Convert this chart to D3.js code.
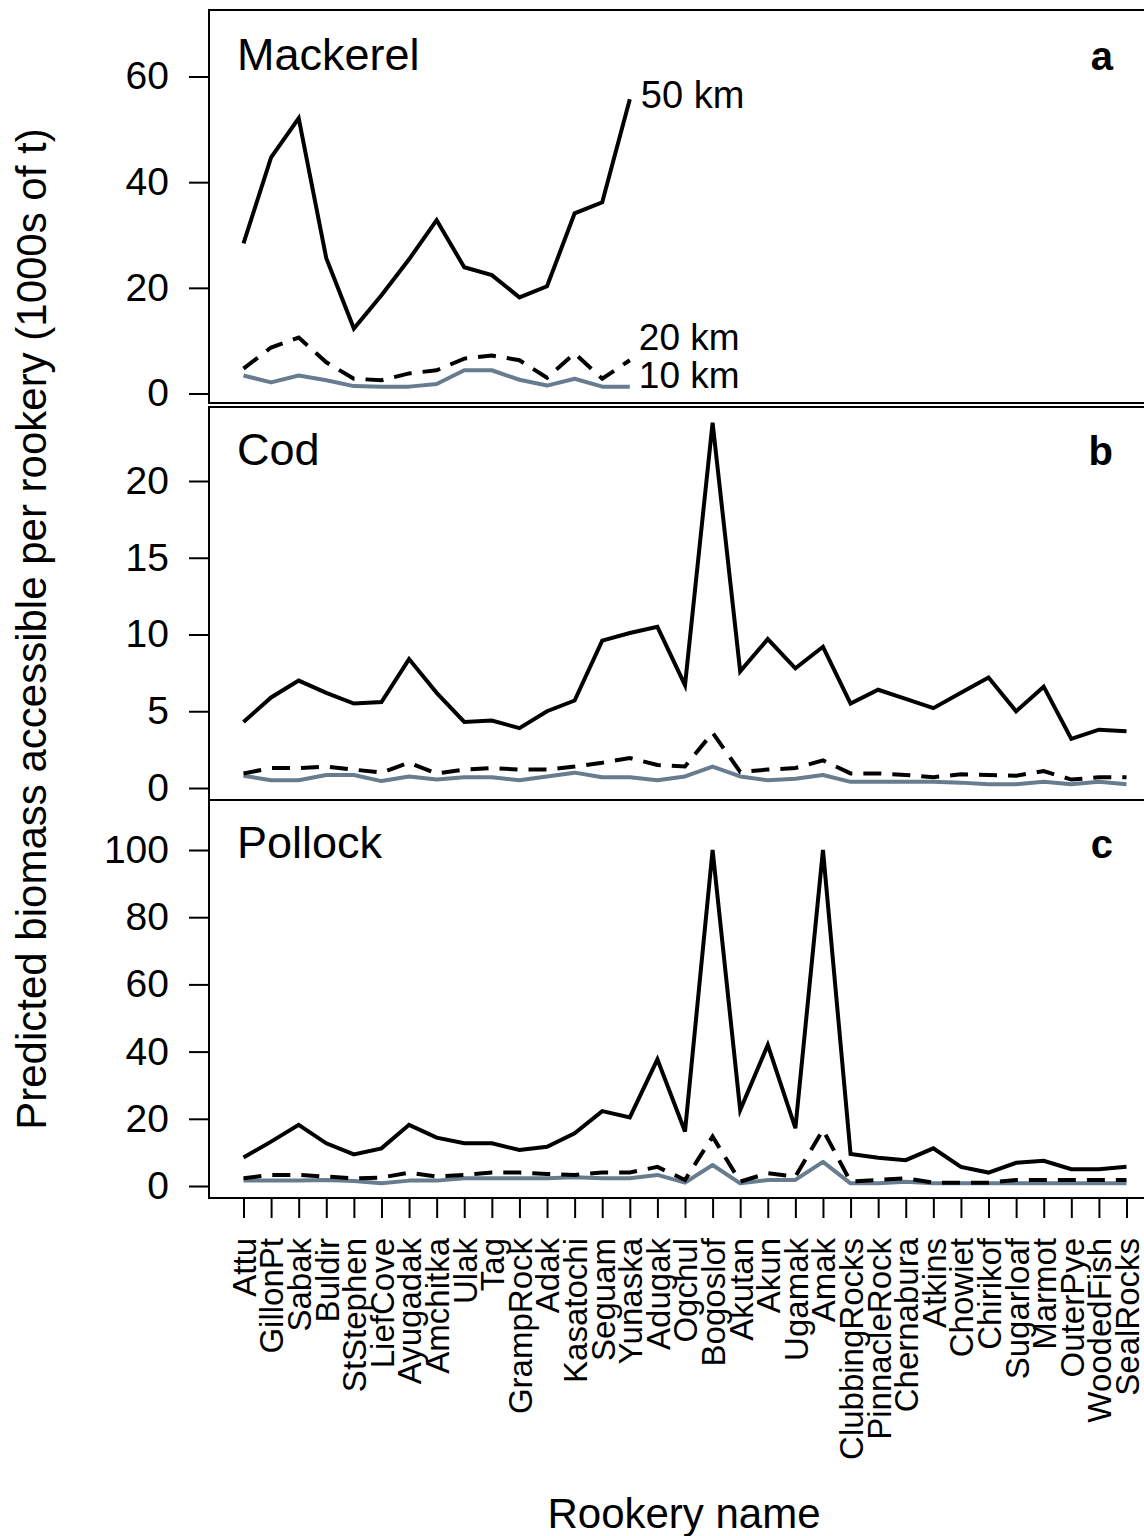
<!DOCTYPE html>
<html>
<head>
<meta charset="utf-8">
<script src="https://cdn.jsdelivr.net/npm/d3@7"></script>
<style>
  body { margin: 0; background: #fff; }
  svg text { font-family: "Liberation Sans", Arial, sans-serif; fill: #000; }
</style>
</head>
<body>
<div id="chart"></div>
<script>
(function() {

var rookeries = ["Attu", "GillonPt", "Sabak", "Buldir", "StStephen", "LiefCove", "Ayugadak",
  "Amchitka", "Ulak", "Tag", "GrampRock", "Adak", "Kasatochi", "Seguam", "Yunaska", "Adugak",
  "Ogchul", "Bogoslof", "Akutan", "Akun", "Ugamak", "Amak", "ClubbingRocks", "PinnacleRock",
  "Chernabura", "Atkins", "Chowiet", "Chirikof", "Sugarloaf", "Marmot", "OuterPye",
  "WoodedFish", "SealRocks"];

// mackerel only reaches Yunaska
var mackerel50 = [28.4, 44.7, 52.1, 25.6, 12.3, 18.6, 25.4, 32.8, 23.9, 22.4, 18.2, 20.3, 34.1, 36.2, 55.7];
var mackerel20 = [4.7, 8.7, 10.6, 5.9, 2.8, 2.5, 3.8, 4.4, 6.6, 7.2, 6.3, 3.0, 7.6, 2.8, 6.3];
var mackerel10 = [3.4, 2.1, 3.4, 2.5, 1.4, 1.3, 1.3, 1.8, 4.4, 4.4, 2.6, 1.5, 2.8, 1.3, 1.3];

var cod50 = [4.3, 5.9, 7.0, 6.2, 5.5, 5.6, 8.4, 6.2, 4.3, 4.4, 3.9, 5.0, 5.7, 9.6, 10.1, 10.5,
  6.7, 23.8, 7.6, 9.7, 7.8, 9.2, 5.5, 6.4, 5.8, 5.2, 6.2, 7.2, 5.0, 6.6, 3.2, 3.8, 3.7];
var cod20 = [0.95, 1.3, 1.3, 1.4, 1.2, 1.0, 1.65, 0.95, 1.2, 1.3, 1.2, 1.2, 1.4, 1.65, 1.95, 1.5,
  1.4, 3.6, 1.05, 1.2, 1.3, 1.8, 0.95, 0.95, 0.85, 0.7, 0.9, 0.85, 0.8, 1.1, 0.55, 0.7, 0.7];
var cod10 = [0.8, 0.5, 0.5, 0.85, 0.85, 0.45, 0.75, 0.55, 0.7, 0.7, 0.5, 0.75, 1.0, 0.7, 0.7, 0.5,
  0.75, 1.4, 0.75, 0.5, 0.6, 0.85, 0.4, 0.4, 0.4, 0.4, 0.35, 0.25, 0.25, 0.4, 0.25, 0.4, 0.25];

var pollock50 = [8.5, 13.2, 18.2, 12.7, 9.4, 11.2, 18.2, 14.4, 12.7, 12.7, 10.7, 11.7, 15.7, 22.3, 20.4, 37.7,
  16.2, 100, 22.6, 42, 17.2, 100, 9.5, 8.4, 7.7, 11.2, 5.7, 4.0, 6.9, 7.5, 5.0, 5.0, 5.7];
var pollock20 = [2.3, 3.3, 3.3, 2.8, 2.3, 2.5, 4.0, 2.8, 3.3, 4.0, 4.0, 3.6, 3.3, 4.0, 4.0, 5.7,
  1.8, 14.7, 1.3, 3.8, 2.8, 16.7, 1.3, 1.8, 2.3, 1.0, 1.0, 1.0, 1.8, 1.8, 1.8, 1.8, 1.8];
var pollock10 = [1.6, 1.6, 1.6, 1.8, 1.5, 0.8, 1.6, 1.6, 2.3, 2.3, 2.3, 2.3, 2.6, 2.3, 2.3, 3.3,
  1.0, 6.25, 0.8, 1.8, 1.8, 7.2, 0.8, 0.8, 1.3, 0.8, 0.8, 0.8, 0.8, 0.8, 0.8, 0.8, 0.8];

var mackerelTicks = [0, 20, 40, 60],
    codTicks = [0, 5, 10, 15, 20],
    pollockTicks = [0, 20, 40, 60, 80, 100];

var legendLabels = ["50 km", "20 km", "10 km"];

var width = 1144, height = 1536;

var svg = d3.select("#chart").append("svg")
    .attr("width", width)
    .attr("height", height);

svg.append("rect").attr("width", width).attr("height", height).attr("fill", "#fff");

// one shared x scale, rookery index -> px (R style 4% padding on the box)
var x = d3.scaleLinear()
    .domain([0, rookeries.length - 1])
    .range([243.5, 1126.5]);

var panels = [
  { name: "Mackerel", letter: "a", top: 10, bottom: 403, dom: [0, 60], rng: [393.5, 76.5],
    ticks: mackerelTicks, s50: mackerel50, s20: mackerel20, s10: mackerel10 },
  { name: "Cod", letter: "b", top: 407, bottom: 800, dom: [0, 20], rng: [788, 481],
    ticks: codTicks, s50: cod50, s20: cod20, s10: cod10 },
  { name: "Pollock", letter: "c", top: 800, bottom: 1198, dom: [0, 100], rng: [1186, 850],
    ticks: pollockTicks, s50: pollock50, s20: pollock20, s10: pollock10 }
];

var boxLeft = x(-1.25), boxRight = x(33.28);

panels.forEach(function(p, pi) {
  var y = d3.scaleLinear().domain(p.dom).range(p.rng);
  p.y = y;

  var g = svg.append("g").attr("class", "panel");

  var line = d3.line()
      .x(function(d, i) { return x(i); })
      .y(function(d) { return y(d); });

  // 10 km grey
  g.append("path")
      .datum(p.s10)
      .attr("d", line)
      .attr("fill", "none")
      .attr("stroke", "#687c90")
      .attr("stroke-width", 4)
      .attr("stroke-linejoin", "round");

  // 20 km dashed
  g.append("path")
      .datum(p.s20)
      .attr("d", line)
      .attr("fill", "none")
      .attr("stroke", "#000")
      .attr("stroke-width", 4)
      .attr("stroke-dasharray", "18,11");

  // 50 km solid
  g.append("path")
      .datum(p.s50)
      .attr("d", line)
      .attr("fill", "none")
      .attr("stroke", "#000")
      .attr("stroke-width", 4)
      .attr("stroke-linejoin", "miter");

  // box
  g.append("rect")
      .attr("x", boxLeft)
      .attr("y", p.top)
      .attr("width", boxRight - boxLeft)
      .attr("height", p.bottom - p.top)
      .attr("fill", "none")
      .attr("stroke", "#000")
      .attr("stroke-width", 2);

  // y axis
  var yAxis = g.append("g")
      .attr("transform", "translate(" + boxLeft + ",0)")
      .call(d3.axisLeft(y).tickValues(p.ticks).tickSize(20).tickPadding(20).tickFormat(d3.format("d")));
  yAxis.select(".domain").remove();
  yAxis.selectAll(".tick line").attr("stroke", "#000").attr("stroke-width", 2);
  yAxis.selectAll(".tick text")
      .style("font-size", "39px")
      .style("font-family", "'Liberation Sans', Arial, sans-serif");

  g.append("text")
      .attr("x", boxLeft + 28)
      .attr("y", p.top + (pi === 0 ? 60 : 58))
      .style("font-size", "45px")
      .text(p.name);

  g.append("text")
      .attr("x", 1113)
      .attr("y", p.top + (pi === 0 ? 60 : 58))
      .attr("text-anchor", "end")
      .style("font-size", "40px")
      .style("font-weight", "bold")
      .text(p.letter);
});

// distance labels at the end of the mackerel lines
var pa = panels[0], lastI = mackerel50.length - 1;
var legendY = [pa.y(mackerel50[lastI]) + 9, pa.y(mackerel20[lastI]) - 10, pa.y(mackerel10[lastI]) + 1];
legendLabels.forEach(function(l, i) {
  svg.append("text")
      .attr("x", x(lastI) + (i === 0 ? 11 : 9))
      .attr("y", legendY[i])
      .style("font-size", i === 0 ? "38px" : "37px")
      .text(l);
});

// x axis under the bottom panel
var pc = panels[2];
var xAxis = svg.append("g")
    .attr("transform", "translate(0," + pc.bottom + ")")
    .call(d3.axisBottom(x).tickValues(d3.range(rookeries.length)).tickSize(20).tickFormat(function(i) { return rookeries[i]; }));
xAxis.select(".domain").remove();
xAxis.selectAll(".tick line").attr("stroke", "#000").attr("stroke-width", 2);
xAxis.selectAll(".tick text")
    .style("font-size", "33px")
    .style("font-family", "'Liberation Sans', Arial, sans-serif")
    .attr("text-anchor", "end")
    .attr("transform", "rotate(-90)")
    .attr("x", -40)
    .attr("y", 0)
    .attr("dy", "0.36em");

svg.append("text")
    .attr("x", 684)
    .attr("y", 1528)
    .attr("text-anchor", "middle")
    .style("font-size", "42px")
    .text("Rookery name");

svg.append("text")
    .attr("transform", "translate(46,629) rotate(-90)")
    .attr("text-anchor", "middle")
    .style("font-size", "42px")
    .text("Predicted biomass accessible per rookery (1000s of t)");

})()
</script>
</body>
</html>
